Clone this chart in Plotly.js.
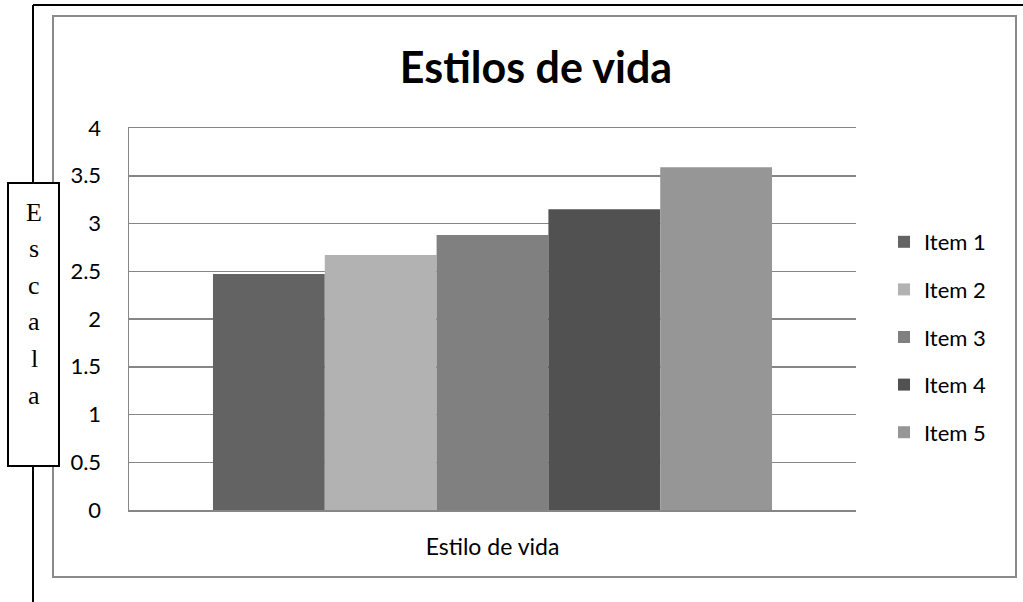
<!DOCTYPE html>
<html>
<head>
<meta charset="utf-8">
<script src="https://cdn.plot.ly/plotly-3.0.1.min.js"></script>
<style>
html,body{margin:0;padding:0;background:#fff;}
#chart{width:1023px;height:602px;}
</style>
</head>
<body>
<div id="chart"></div>
<script>
// ---- data ----
const category = ['Estilo de vida'];
const seriesNames = ['Item 1', 'Item 2', 'Item 3', 'Item 4', 'Item 5'];
const seriesValues = [2.47, 2.67, 2.88, 3.15, 3.59];
const seriesColors = ['#636363', '#b2b2b2', '#808080', '#515151', '#969696'];
const yTickVals = [0, 0.5, 1, 1.5, 2, 2.5, 3, 3.5, 4];
const yTickText = ['0', '0.5', '1', '1.5', '2', '2.5', '3', '3.5', '4'];
const chartTitle = 'Estilos de vida';
const sideLabel = ['E', 's', 'c', 'a', 'l', 'a'];

// ---- geometry helpers (plot area in pixels) ----
const W = 1023, H = 602;
const PL = 129, PR = 856, PT = 128, PB = 510;
const px = v => (v - PL) / (PR - PL);
const py = v => (PB - v) / (PB - PT);

const traces = seriesNames.map((n, i) => ({
  type: 'bar',
  name: n,
  legendgroup: n,
  x: category,
  y: [seriesValues[i]],
  marker: {color: seriesColors[i], line: {width: 0}},
  hoverinfo: 'skip'
}));

const shapes = [
  // outer black frame lines
  {type: 'line', xref: 'paper', yref: 'paper', x0: px(33), x1: px(33), y0: py(5), y1: py(602), line: {color: '#000', width: 2}, layer: 'below'},
  {type: 'line', xref: 'paper', yref: 'paper', x0: px(33), x1: px(1023), y0: py(5), y1: py(5), line: {color: '#000', width: 2}, layer: 'below'},
  // chart area border
  {type: 'rect', xref: 'paper', yref: 'paper', x0: px(53), x1: px(1016), y0: py(16), y1: py(577), line: {color: '#8a8a8a', width: 2}, fillcolor: 'rgba(255,255,255,1)', layer: 'below'},
  // side label box
  {type: 'rect', xref: 'paper', yref: 'paper', x0: px(8), x1: px(59), y0: py(183), y1: py(466), line: {color: '#000', width: 2}, fillcolor: '#fff', layer: 'above'}
];

const annotations = sideLabel.map((ch, i) => ({
  xref: 'paper', yref: 'paper',
  x: px(34), y: py(212 + i * 36.6),
  xanchor: 'center', yanchor: 'middle',
  text: ch, showarrow: false,
  font: {family: 'Liberation Serif', size: 26, color: '#000'}
}));

const layout = {
  width: W, height: H,
  margin: {l: PL, r: W - PR, t: PT, b: H - PB, pad: 0},
  paper_bgcolor: 'rgba(0,0,0,0)',
  plot_bgcolor: 'rgba(0,0,0,0)',
  title: {
    text: '<b>' + chartTitle + '</b>',
    font: {family: 'Lato', size: 43, color: '#000'},
    xref: 'container', yref: 'container',
    x: 536 / W, xanchor: 'center',
    y: 1 - 68 / H, yanchor: 'middle'
  },
  barmode: 'group',
  bargap: 0.231,
  bargroupgap: 0,
  showlegend: true,
  legend: {
    x: px(884), y: py(221), xanchor: 'left', yanchor: 'top',
    font: {family: 'Lato', size: 22, color: '#000'},
    tracegroupgap: 16,
    traceorder: 'grouped',
    bgcolor: 'rgba(0,0,0,0)'
  },
  xaxis: {
    type: 'category',
    showgrid: false, zeroline: false,
    showline: true, mirror: true, linecolor: '#868686', linewidth: 1.5,
    ticks: '',
    tickfont: {family: 'Lato', size: 23, color: '#000'},
    ticklabelstandoff: 16,
    fixedrange: true
  },
  yaxis: {
    range: [0, 4],
    tickmode: 'array', tickvals: yTickVals, ticktext: yTickText,
    showgrid: true, gridcolor: '#868686', gridwidth: 1.5,
    zeroline: false,
    showline: true, linecolor: '#868686', linewidth: 1.5,
    ticks: '',
    tickfont: {family: 'Lato', size: 22, color: '#000'},
    ticklabelstandoff: 22,
    fixedrange: true
  },
  shapes: shapes,
  annotations: annotations
};

Plotly.newPlot('chart', traces, layout, {displayModeBar: false, staticPlot: true});
</script>
</body>
</html>
